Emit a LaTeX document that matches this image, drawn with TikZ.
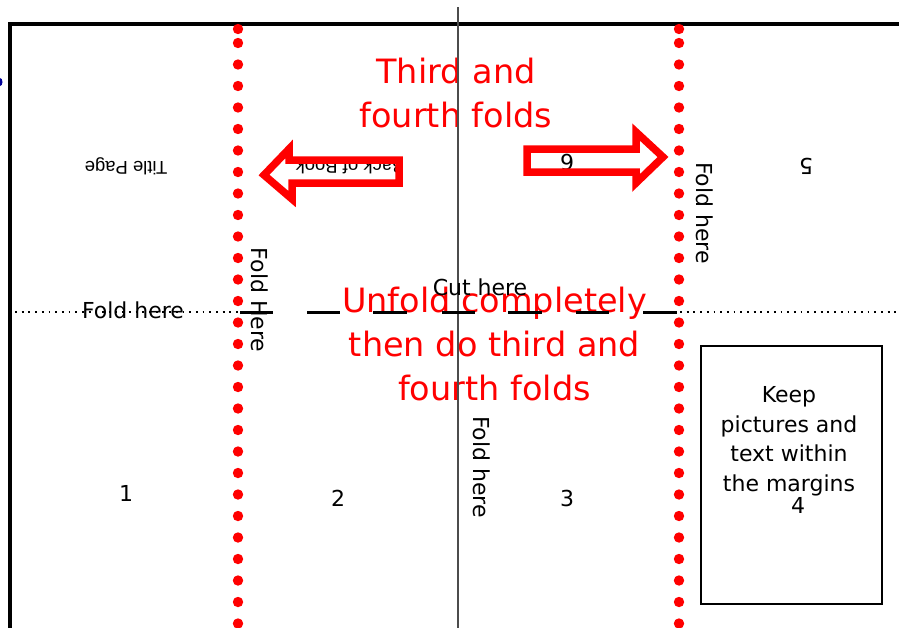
\documentclass[tikz,border=0pt]{standalone}
\usepackage{fontspec}
\setmainfont{DejaVu Sans}
\newfontfamily\arialf{Liberation Sans}
\begin{document}
\begin{tikzpicture}[x=1pt,y=-1pt,
  redtxt/.style={text=red, font=\fontsize{33.5}{40}\selectfont, inner sep=0pt, anchor=base},
  blk/.style={text=black, font=\fontsize{22}{26}\selectfont, inner sep=0pt},
  smalltxt/.style={text=black, font=\arialf\fontsize{18.5}{20}\selectfont, inner sep=0pt},
  hollowarrow/.style={draw=red, line width=7.5pt, line join=miter},
  foldline/.style={black, line width=1.8pt, dash pattern=on 1.8pt off 4.9pt},
  cutdash/.style={black, line width=3pt},
  frame/.style={black, line width=4pt, line join=miter},
  midline/.style={black!70, line width=1.2pt},
]
\useasboundingbox (0,0) rectangle (899,627);

% small blue mark at the left edge
\fill[blue!60!black] (0,82) ellipse [x radius=2.5, y radius=4];

% red instruction texts
\node[redtxt] (t1) at (456,83) {Third and};
\node[redtxt] (t2) at (456,127) {fourth folds};
\node[redtxt] (u1) at (494.5,312) {Unfold completely};
\node[redtxt] (u2) at (494.5,356) {then do third and};
\node[redtxt] (u3) at (494.5,400) {fourth folds};

% outer frame
\draw[frame] (10,640) -- (10,23.5) -- (910,23.5);
% centre fold line
\draw[midline] (458,7) -- (458,640);

% horizontal fold line (dotted) and cut line (dashes)
\coordinate (fl1) at (15,312);
\coordinate (fl2) at (240,312);
\coordinate (fr1) at (680,312);
\coordinate (fr2) at (905,312);
\draw[foldline] (fl1) -- (fl2);
\draw[foldline] (fr1) -- (fr2);
\foreach \a/\b in {240/273,307/340,373/407,442/475,508/542,576/609,643/677}
  \draw[cutdash] (\a,312) -- (\b,312);

% black labels
\node[smalltxt, rotate=180] (title) at (126,166) {Title Page};
\node[smalltxt, rotate=180] (back) at (350,167) {Back of Book};
\node[blk, rotate=180] (six) at (567,163) {6};
\node[blk, rotate=180] (five) at (806,166) {5};
\node[blk, anchor=base] (foldl) at (133,318) {Fold here};
\node[blk, anchor=base] (cut) at (480,295) {Cut here};
\node[blk, rotate=-90] (foldv1) at (260,300) {Fold Here};
\node[blk, rotate=-90] (foldv2) at (705,213) {Fold here};
\node[blk, rotate=-90] (foldv3) at (482,467) {Fold here};
\node[blk] (n1) at (126,493) {1};
\node[blk] (n2) at (338,498) {2};
\node[blk] (n3) at (567,498) {3};

% margin box
\draw[black, line width=1.2pt] (701,346) rectangle (882,604);
\node[blk, anchor=base] (k1) at (789,402) {Keep};
\node[blk, anchor=base] (k2) at (789,432) {pictures and};
\node[blk, anchor=base] (k3) at (789,461) {text within};
\node[blk, anchor=base] (k4) at (789,491) {the margins};
\node[blk] (n4) at (798,505) {4};

% hollow arrows
\draw[hollowarrow] (264,175) -- (289,149) -- (289,160) -- (399,160) -- (399,183)
  -- (292,183) -- (292,199) -- cycle;
\draw[hollowarrow] (527,149) -- (636,149) -- (636,132) -- (663,157) -- (636,183)
  -- (636,172) -- (527,172) -- cycle;

% red dotted fold lines
\foreach \x in {238,679} {
  \fill[red] (\x,29) circle [radius=5.2];
  \foreach \i in {0,...,27}
    \fill[red] (\x,43+21.5*\i) circle [radius=5.2];
}
\end{tikzpicture}
\end{document}
